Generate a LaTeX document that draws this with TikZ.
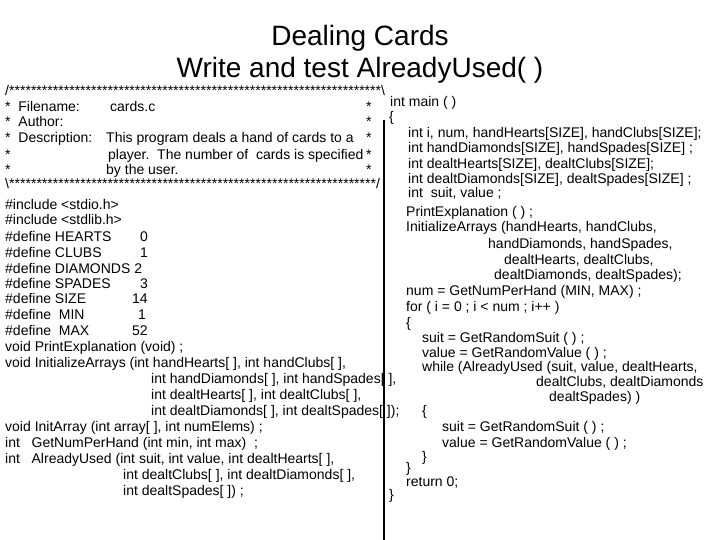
\documentclass[tikz,border=0pt]{standalone}
\usepackage{fontspec}
\setmainfont{Liberation Sans}
\begin{document}
\begin{tikzpicture}[x=1pt,y=-1pt,
  c/.style={anchor=base west,inner sep=0pt,font=\fontsize{14}{15}\selectfont},
  ttl/.style={inner sep=0pt,font=\fontsize{28}{30}\selectfont}]
\useasboundingbox[fill=white] (0,0) rectangle (720,540);
\node[ttl] (t1) at (360,38) {Dealing Cards};
\node[ttl] (t2) at (360,70) {Write and test AlreadyUsed( )};
\draw[line width=2.5pt] (384,120) coordinate (b1) -- (384,540) coordinate (b2);
% left column
\node[c] (s1) at (5,96) {\hbox to 380pt{/\xleaders\hbox{*}\hfill\textbackslash}};
\node[c] (l1) at (5,112) {*\ \ Filename:};
\node[c] (l1b) at (110,112) {cards.c};
\node[c] (l1c) at (366,112) {*};
\node[c] (l2) at (5,127) {*\ \ Author:};
\node[c] (l2c) at (366,127) {*};
\node[c] (l3) at (5,143) {*\ \ Description:};
\node[c] (l3b) at (106,143) {This program deals a hand of cards to a};
\node[c] (l3c) at (366,143) {*};
\node[c] (l4) at (5,160) {*};
\node[c] (l4b) at (108,160) {player.\ \ The number of\ \ cards is specified};
\node[c] (l4c) at (366,160) {*};
\node[c] (l5) at (5,175) {*};
\node[c] (l5b) at (106,175) {by the user.};
\node[c] (l5c) at (366,175) {*};
\node[c] (s2) at (5,189) {\hbox to 375pt{\textbackslash\xleaders\hbox{*}\hfill/}};
\node[c] (i1) at (5,210) {\#include <stdio.h>};
\node[c] (i2) at (5,225) {\#include <stdlib.h>};
\node[c] (d1) at (5,241) {\#define HEARTS}; \node[c] (d1v) at (140,241) {0};
\node[c] (d2) at (5,257) {\#define CLUBS}; \node[c] (d2v) at (140,257) {1};
\node[c] (d3) at (5,273) {\#define DIAMONDS 2};
\node[c] (d4) at (5,288) {\#define SPADES}; \node[c] (d4v) at (140,288) {3};
\node[c] (d5) at (5,303) {\#define SIZE}; \node[c] (d5v) at (132,303) {14};
\node[c] (d6) at (5,319) {\#define\ \ MIN}; \node[c] (d6v) at (138,319) {1};
\node[c] (d7) at (5,335) {\#define\ \ MAX}; \node[c] (d7v) at (132,335) {52};
\node[c] (p1) at (5,351) {void PrintExplanation (void) ;};
\node[c] (p2) at (5,367) {void InitializeArrays (int handHearts[ ], int handClubs[ ],};
\node[c] (p3) at (151,383) {int handDiamonds[ ], int handSpades[ ],};
\node[c] (p4) at (151,399) {int dealtHearts[ ], int dealtClubs[ ],};
\node[c] (p5) at (151,415) {int dealtDiamonds[ ], int dealtSpades[ ]);};
\node[c] (p6) at (5,431) {void InitArray (int array[ ], int numElems) ;};
\node[c] (p7) at (5,447) {int\ \ \ GetNumPerHand (int min, int max)\ \ ;};
\node[c] (p8) at (5,463) {int\ \ \ AlreadyUsed (int suit, int value, int dealtHearts[ ],};
\node[c] (p9) at (123,479) {int dealtClubs[ ], int dealtDiamonds[ ],};
\node[c] (p10) at (123,495) {int dealtSpades[ ]) ;};
% right column
\node[c] (r1) at (390,107) {int main ( )};
\node[c] (r2) at (389,122) {\{};
\node[c] (r3) at (408,138) {int i, num, handHearts[SIZE], handClubs[SIZE];};
\node[c] (r4) at (408,153) {int handDiamonds[SIZE], handSpades[SIZE] ;};
\node[c] (r5) at (408,169) {int dealtHearts[SIZE], dealtClubs[SIZE];};
\node[c] (r6) at (408,184) {int dealtDiamonds[SIZE], dealtSpades[SIZE] ;};
\node[c] (r7) at (408,197) {int\ \ suit, value ;};
\node[c] (r8) at (406,217) {PrintExplanation ( ) ;};
\node[c] (r9) at (406,232) {InitializeArrays (handHearts, handClubs,};
\node[c] (r10) at (488,248) {handDiamonds, handSpades,};
\node[c] (r11) at (504,264) {dealtHearts, dealtClubs,};
\node[c] (r12) at (494,279) {dealtDiamonds, dealtSpades);};
\node[c] (r13) at (406,295) {num = GetNumPerHand (MIN, MAX) ;};
\node[c] (r14) at (406,311) {for ( i = 0 ; i < num ; i++ )};
\node[c] (r15) at (406,327) {\{};
\node[c] (r16) at (422,342) {suit = GetRandomSuit ( ) ;};
\node[c] (r17) at (422,357) {value = GetRandomValue ( ) ;};
\node[c] (r18) at (422,371) {while (AlreadyUsed (suit, value, dealtHearts,};
\node[c] (r19) at (536,386) {dealtClubs, dealtDiamonds};
\node[c] (r20) at (549,401) {dealtSpades) )};
\node[c] (r21) at (422,415) {\{};
\node[c] (r22) at (442,431) {suit = GetRandomSuit ( ) ;};
\node[c] (r23) at (442,447) {value = GetRandomValue ( ) ;};
\node[c] (r24) at (422,461) {\}};
\node[c] (r25) at (406,472) {\}};
\node[c] (r26) at (406,486) {return 0;};
\node[c] (r27) at (389,499) {\}};
\end{tikzpicture}
\end{document}
